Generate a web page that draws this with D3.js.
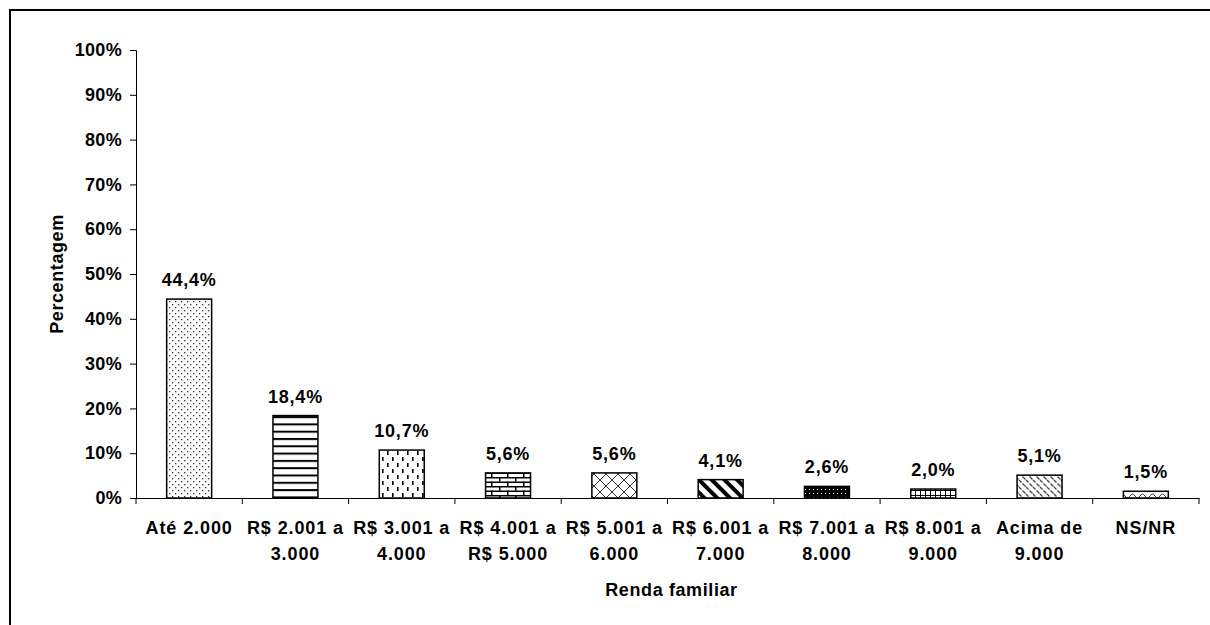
<!DOCTYPE html>
<html>
<head>
<meta charset="utf-8">
<script src="https://cdn.jsdelivr.net/npm/d3@7"></script>
<style>
  body { margin: 0; background: #fff; }
  svg text { font-family: "Liberation Sans", Arial, sans-serif; font-weight: bold; fill: #000; }
</style>
</head>
<body>
<div id="output"></div>
<script>
const categories = [
  ['Até 2.000'],
  ['R$ 2.001 a', '3.000'],
  ['R$ 3.001 a', '4.000'],
  ['R$ 4.001 a', 'R$ 5.000'],
  ['R$ 5.001 a', '6.000'],
  ['R$ 6.001 a', '7.000'],
  ['R$ 7.001 a', '8.000'],
  ['R$ 8.001 a', '9.000'],
  ['Acima de', '9.000'],
  ['NS/NR']
];
const values = [44.4, 18.4, 10.7, 5.6, 5.6, 4.1, 2.6, 2.0, 5.1, 1.5];
const patterns = ['dots', 'hlines', 'vdash', 'brick', 'cross', 'wdiag', 'darkdots', 'grid', 'ddash', 'wave'];
const yTicks = [0, 10, 20, 30, 40, 50, 60, 70, 80, 90, 100];

const width = 1210, height = 625;
const svg = d3.select('#output').append('svg')
  .attr('width', width).attr('height', height);

// frame round the chart
svg.append('rect')
  .attr('x', 10).attr('y', 10)
  .attr('width', 1300).attr('height', 700)
  .attr('fill', 'none').attr('stroke', '#000').attr('stroke-width', 2);

// fill patterns
const defs = svg.append('defs');
function pat(id, w, h, extra) {
  const p = defs.append('pattern').attr('id', id)
    .attr('patternUnits', 'userSpaceOnUse').attr('width', w).attr('height', h);
  if (extra) p.attr('patternTransform', extra);
  p.append('rect').attr('width', w).attr('height', h).attr('fill', '#fff');
  return p;
}
let p;
p = pat('dots', 6, 6);
p.append('rect').attr('x', 1).attr('y', 1).attr('width', 1.3).attr('height', 1.3).attr('fill', '#333');
p.append('rect').attr('x', 4).attr('y', 4).attr('width', 1.3).attr('height', 1.3).attr('fill', '#333');

p = pat('hlines', 8, 7.3);
p.append('rect').attr('y', 0).attr('width', 8).attr('height', 2).attr('fill', '#000');

p = pat('vdash', 10, 12);
p.append('rect').attr('x', 2).attr('y', 1).attr('width', 1.6).attr('height', 4).attr('fill', '#000');
p.append('rect').attr('x', 7).attr('y', 7).attr('width', 1.6).attr('height', 4).attr('fill', '#000');

p = pat('brick', 16, 9);
p.append('rect').attr('y', 0).attr('width', 16).attr('height', 1.5).attr('fill', '#000');
p.append('rect').attr('y', 4.5).attr('width', 16).attr('height', 1.5).attr('fill', '#000');
p.append('rect').attr('x', 3).attr('y', 0).attr('width', 1.5).attr('height', 4.5).attr('fill', '#000');
p.append('rect').attr('x', 11).attr('y', 4.5).attr('width', 1.5).attr('height', 4.5).attr('fill', '#000');

p = pat('cross', 12, 12);
p.append('path').attr('d', 'M0,0L12,12M12,0L0,12').attr('stroke', '#333').attr('stroke-width', 1);

p = pat('wdiag', 9, 9, 'rotate(-45)');
p.append('rect').attr('x', 0).attr('width', 4).attr('height', 9).attr('fill', '#000');

p = pat('darkdots', 4, 4);
p.select('rect').attr('fill', '#000');
p.append('rect').attr('x', 1).attr('y', 1).attr('width', 1).attr('height', 1).attr('fill', '#fff');

p = pat('grid', 5, 5);
p.append('path').attr('d', 'M0,0.5H5M0.5,0V5').attr('stroke', '#000').attr('stroke-width', 1);

p = pat('ddash', 7, 7);
p.append('path').attr('d', 'M0.5,0.5L3.5,3.5M4,4L6.5,6.5').attr('stroke', '#444').attr('stroke-width', 1.3);

p = pat('wave', 10, 6);
p.append('path').attr('d', 'M0,4Q2.5,0 5,4T10,4').attr('fill', 'none').attr('stroke', '#333').attr('stroke-width', 1);

// scales
const x = d3.scaleBand().domain(d3.range(categories.length)).range([136, 1199]).padding(0);
const y = d3.scaleLinear().domain([0, 100]).range([498, 50]);
const barW = x.bandwidth() * 0.423;

// y axis
const yAxis = svg.append('g')
  .attr('transform', 'translate(136,0)')
  .call(d3.axisLeft(y).tickValues(yTicks).tickSize(6).tickPadding(8).tickFormat(d => d + '%'));
yAxis.selectAll('text').style('font-size', '18px').style('letter-spacing', '0.3px');
yAxis.selectAll('line, path').attr('stroke', '#000');

// x axis
const xAxis = svg.append('g')
  .attr('transform', 'translate(0,498)')
  .call(d3.axisBottom(x).tickSize(0).tickFormat(''));
xAxis.select('.domain').attr('stroke', '#000');
xAxis.selectAll('.tick').remove();
xAxis.selectAll('.sep')
  .data(d3.range(categories.length + 1))
  .join('line')
  .attr('x1', d => 136 + d * x.step()).attr('x2', d => 136 + d * x.step())
  .attr('y1', 0).attr('y2', 6)
  .attr('stroke', '#000');

// category labels
const lab = svg.append('g').selectAll('text')
  .data(categories)
  .join('text')
  .attr('text-anchor', 'middle')
  .style('font-size', '18px')
  .style('letter-spacing', '0.9px')
  .attr('transform', (d, i) => `translate(${x(i) + x.bandwidth() / 2},534)`);
lab.selectAll('tspan')
  .data(d => d)
  .join('tspan')
  .attr('x', 0)
  .attr('y', (d, i) => i * 26)
  .text(d => d);

// bars
svg.append('g').selectAll('rect')
  .data(values)
  .join('rect')
  .attr('x', (d, i) => x(i) + (x.bandwidth() - barW) / 2)
  .attr('y', d => y(d))
  .attr('width', barW)
  .attr('height', d => y(0) - y(d))
  .attr('fill', (d, i) => `url(#${patterns[i]})`)
  .attr('stroke', '#000')
  .attr('stroke-width', 1.5);

// value labels
svg.append('g').selectAll('text')
  .data(values)
  .join('text')
  .attr('text-anchor', 'middle')
  .style('font-size', '18px')
  .style('letter-spacing', '0.8px')
  .attr('x', (d, i) => x(i) + x.bandwidth() / 2)
  .attr('y', d => y(d) - 13)
  .text(d => d3.format('.1f')(d).replace('.', ',') + '%');

// axis titles
svg.append('text')
  .attr('text-anchor', 'middle')
  .style('font-size', '18px')
  .style('letter-spacing', '0.6px')
  .attr('transform', `translate(63,${(y(0) + y(100)) / 2}) rotate(-90)`)
  .text('Percentagem');

svg.append('text')
  .attr('text-anchor', 'middle')
  .style('font-size', '18px')
  .style('letter-spacing', '0.6px')
  .attr('x', (136 + 1199) / 2 + 4)
  .attr('y', 596)
  .text('Renda familiar');
</script>
</body>
</html>
